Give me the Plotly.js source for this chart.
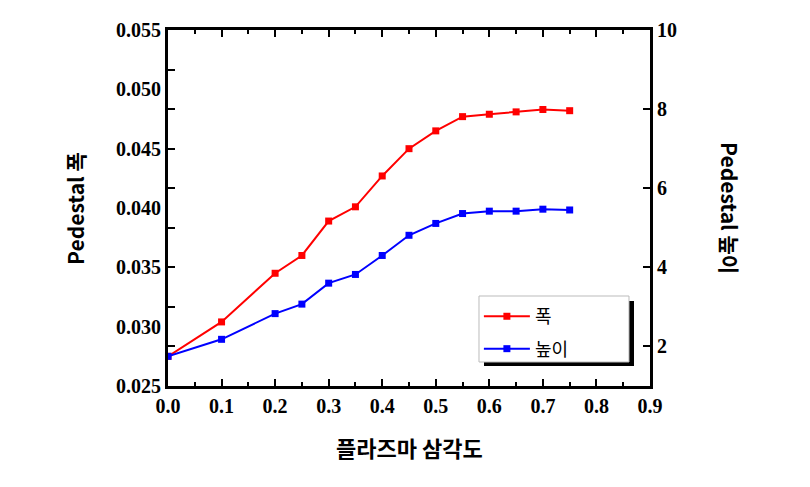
<!DOCTYPE html>
<html>
<head>
<meta charset="utf-8">
<script src="https://cdn.plot.ly/plotly-3.0.1.min.js"></script>
<style>html,body{margin:0;padding:0;background:#fff;}#chart{width:810px;height:487px;}</style>
</head>
<body>
<div id="chart"></div>
<script>
var triangularity = [0.0, 0.1, 0.2, 0.25, 0.3, 0.35, 0.4, 0.45, 0.5, 0.55, 0.6, 0.65, 0.7, 0.75];
var pedestalWidth = [0.0275, 0.0304, 0.0345, 0.0360, 0.0389, 0.0401, 0.0427, 0.0450, 0.0465, 0.0477, 0.0479, 0.0481, 0.0483, 0.0482];
var pedestalHeight = [1.75, 2.18, 2.83, 3.07, 3.60, 3.82, 4.30, 4.81, 5.11, 5.36, 5.42, 5.42, 5.47, 5.45];
var seriesNames = ['폭', '높이'];
var xTitle = '플라즈마 삼각도';
var yLeftTitle = 'Pedestal 폭';
var yRightTitle = 'Pedestal 높이';

var serif = {family: 'Liberation Serif, Times New Roman, serif', size: 20, color: '#000', weight: 'bold'};
var kr = 'Noto Sans CJK KR, Noto Sans, sans-serif';

var traces = [
  {x: triangularity, y: pedestalWidth, name: seriesNames[0], yaxis: 'y', mode: 'lines+markers',
   legendgroup: 'a', line: {color: '#ff0000', width: 2}, marker: {symbol: 'square', size: 7, color: '#ff0000'}},
  {x: triangularity, y: pedestalHeight, name: seriesNames[1], yaxis: 'y2', mode: 'lines+markers',
   legendgroup: 'b', line: {color: '#0000ff', width: 2}, marker: {symbol: 'square', size: 7, color: '#0000ff'}}
];

var layout = {
  width: 810, height: 487,
  margin: {l: 168, r: 160, t: 30, b: 101},
  paper_bgcolor: '#fff', plot_bgcolor: '#fff',
  showlegend: true,
  xaxis: {range: [0, 0.9], dtick: 0.1, tickformat: '.1f', ticks: 'inside', ticklen: 7, tickwidth: 2,
    minor: {dtick: 0.05, ticks: 'inside', ticklen: 4, tickwidth: 2, tickcolor: '#000'},
    showline: true, linewidth: 3, linecolor: '#000', mirror: 'ticks', showgrid: false, zeroline: false,
    tickfont: serif, tickcolor: '#000'},
  yaxis: {range: [0.025, 0.055], dtick: 0.005, tickformat: '.3f', ticks: '', showline: true, linewidth: 3,
    linecolor: '#000', showgrid: false, zeroline: false, tickfont: serif},
  yaxis3: {range: [1, 10], dtick: 1, overlaying: 'y', side: 'left', ticks: 'inside', ticklen: 7, tickwidth: 2,
    tickcolor: '#000', showticklabels: false, showgrid: false, zeroline: false, showline: false},
  yaxis2: {range: [1, 10], dtick: 2, overlaying: 'y', side: 'right', ticks: 'inside', ticklen: 7, tickwidth: 2,
    tickcolor: '#000', showline: true, linewidth: 3, linecolor: '#000', showgrid: false, zeroline: false,
    tickfont: serif},
  legend: {x: 0.645, y: 0.247, xanchor: 'left', yanchor: 'top', bgcolor: 'rgba(0,0,0,0)', itemwidth: 46,
    borderwidth: 0, font: {family: kr, size: 18, color: '#000'}, traceorder: 'grouped', tracegroupgap: 6},
  shapes: [
    {type: 'rect', xref: 'paper', yref: 'paper', x0: 0.6556, x1: 0.9668, y0: 0.0562, y1: 0.2388,
     fillcolor: '#000', line: {width: 0}, layer: 'above'},
    {type: 'rect', xref: 'paper', yref: 'paper', x0: 0.6452, x1: 0.9564, y0: 0.0674, y1: 0.2528,
     fillcolor: '#fff', line: {width: 1, color: '#bbbbbb'}, layer: 'above'}
  ],
  annotations: [
    {text: '<b>' + xTitle + '</b>', xref: 'paper', yref: 'paper', x: 0.5, y: -0.172, xanchor: 'center', yanchor: 'middle',
     showarrow: false, font: {family: kr, size: 22, color: '#000'}},
    {text: '<b>' + yLeftTitle + '</b>', xref: 'paper', yref: 'paper', x: -0.193, y: 0.5, textangle: -90,
     xanchor: 'center', yanchor: 'middle', showarrow: false, font: {family: kr, size: 21, color: '#000'}},
    {text: '<b>' + yRightTitle + '</b>', xref: 'paper', yref: 'paper', x: 1.166, y: 0.5, textangle: 90,
     xanchor: 'center', yanchor: 'middle', showarrow: false, font: {family: kr, size: 21, color: '#000'}}
  ]
};
traces.push({x: [], y: [], yaxis: 'y3', showlegend: false, hoverinfo: 'skip'});
Plotly.newPlot('chart', traces, layout, {displayModeBar: false, staticPlot: true});
</script>
</body>
</html>
